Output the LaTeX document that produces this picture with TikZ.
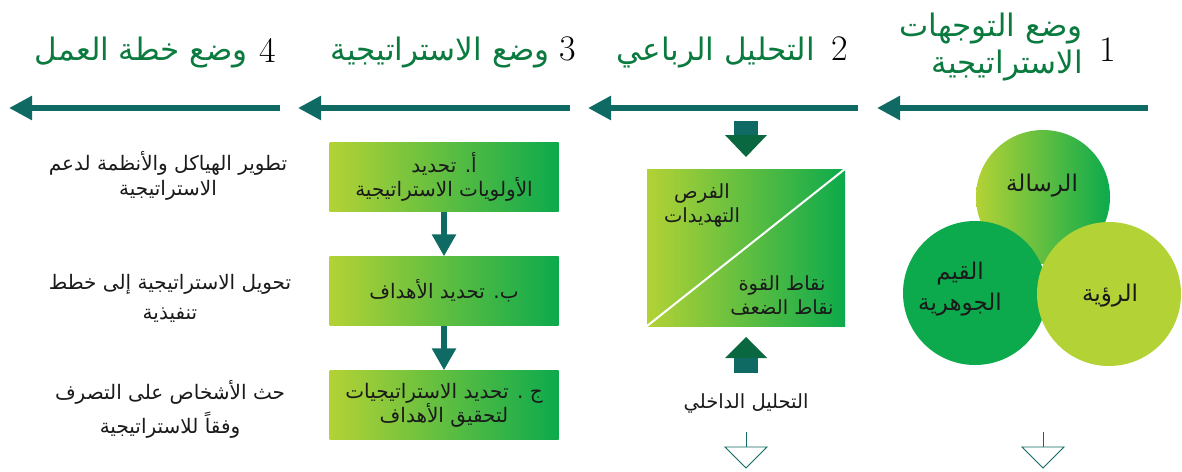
\documentclass[tikz,border=0pt]{standalone}
\usepackage{fontspec}
\usetikzlibrary{arrows.meta}
\newfontfamily\arfont[Script=Arabic]{DejaVu Sans}
\TeXXeTstate=1
\newcommand\AR[1]{{\arfont\beginR #1\endR}}
\definecolor{teal}{HTML}{0E6A62}
\definecolor{titlegreen}{HTML}{0B7A3E}
\definecolor{lightg}{HTML}{B3D235}
\definecolor{darkg}{HTML}{0CAA4C}
\definecolor{tri}{HTML}{0A6840}
\definecolor{txt}{HTML}{1A1A1A}
\begin{document}
\begin{tikzpicture}[x=1pt,y=-1pt,
  harrow/.style={draw=teal, line width=5.5pt, -{Triangle[width=23pt,length=23pt]}},
  varrow/.style={draw=teal, line width=6pt, -{Triangle[width=23pt,length=22pt]}},
  title/.style={text=titlegreen, font=\fontsize{31}{37}\selectfont, inner sep=0pt, align=right},
  num/.style={text=black, font=\fontsize{36}{36}\selectfont, inner sep=0pt},
  gbox/.style={left color=lightg, right color=darkg, minimum width=229pt, minimum height=69pt, inner sep=0pt, align=center, text=txt, font=\fontsize{20}{24}\selectfont},
  lbl/.style={text=txt, font=\fontsize{20}{25}\selectfont, inner sep=0pt, align=center},
  slbl/.style={text=txt, font=\fontsize{19.5}{24}\selectfont, inner sep=0pt, align=center},
  clbl/.style={text=txt, font=\fontsize{23}{31}\selectfont, inner sep=0pt, align=center},
  outarrow/.style={draw=teal, line width=0.9pt, fill=white, line join=miter}
]
\useasboundingbox (0,0) rectangle (1182,471);

% horizontal arrows
\coordinate (a1s) at (1148,108); \coordinate (a1e) at (877,108);
\coordinate (a2s) at (858,108);  \coordinate (a2e) at (588,108);
\coordinate (a3s) at (570,108);  \coordinate (a3e) at (298,108);
\coordinate (a4s) at (280,108);  \coordinate (a4e) at (9,108);
\draw[harrow] (a1s) -- (a1e);
\draw[harrow] (a2s) -- (a2e);
\draw[harrow] (a3s) -- (a3e);
\draw[harrow] (a4s) -- (a4e);

% titles
\node[num] (n1) at (1108,50) {1};
\node[num] (n2) at (840,49) {2};
\node[num] (n3) at (568,49) {3};
\node[num] (n4) at (268,50) {4};
\node[title, anchor=east] (t1) at (1083,47) {\AR{وضع التوجهات}\\\AR{الاستراتيجية}};
\node[title, anchor=east] (t2) at (815,53) {\AR{التحليل الرباعي}};
\node[title, anchor=east] (t3) at (550,53) {\AR{وضع الاستراتيجية}};
\node[title, anchor=east] (t4) at (248,53) {\AR{وضع خطة العمل}};

% column 4 texts
\node[lbl] (l1) at (168,176) {\AR{تطوير الهياكل والأنظمة لدعم}\\\AR{الاستراتيجية}};
\node[lbl] (l2) at (170,298) {\AR{تحويل الاستراتيجية إلى خطط}\\[5pt]\AR{تنفيذية}};
\node[lbl] (l3) at (170,409) {\AR{حث الأشخاص على التصرف}\\[7pt]\AR{وفقاً للاستراتيجية}};

% column 3 boxes
\node[gbox] (b1) at (444,177) {\AR{أ. تحديد}\\\AR{الأولويات الاستراتيجية}};
\node[gbox] (b2) at (444,291) {\AR{ب. تحديد الأهداف}};
\node[gbox] (b3) at (444,405) {\AR{ج . تحديد الاستراتيجيات}\\\AR{لتحقيق الأهداف}};
\draw[varrow] (b1.south) -- (b2.north);
\draw[varrow] (b2.south) -- (b3.north);

% column 2: SWOT
\node[left color=lightg, right color=darkg, minimum width=198pt, minimum height=157pt, inner sep=0pt] (sw) at (746,247.5) {};
\draw[white, line width=2pt] (sw.south west) -- (sw.north east);
\node[slbl] (ext) at (702,205) {\AR{الفرص}\\\AR{التهديدات}};
\node[slbl] (int) at (782,296) {\AR{نقاط القوة}\\\AR{نقاط الضعف}};
% block arrow down
\fill[teal] (734,121) rectangle (758,135);
\fill[tri] (725,135) -- (767,135) -- (746,157) -- cycle;
% block arrow up
\fill[tri] (725,358) -- (767,358) -- (746,337) -- cycle;
\fill[teal] (734,358) rectangle (758,373);
\node[slbl] (intl) at (746,403) {\AR{التحليل الداخلي}};
% outline arrows
\draw[teal, line width=0.9pt] (746,432) -- (746,447);
\draw[outarrow] (725,447) -- (767,447) -- (746,468) -- cycle;
\draw[teal, line width=0.9pt] (1043,432) -- (1043,447);
\draw[outarrow] (1022,447) -- (1064,447) -- (1043,468) -- cycle;

% column 1: circles
\node[circle, left color=lightg, right color=darkg, minimum size=134pt, inner sep=0pt] (cm) at (1043,197) {};
\node[circle, fill=darkg, minimum size=144pt, inner sep=0pt] (cv) at (975,293) {};
\node[circle, fill=lightg, minimum size=144pt, inner sep=0pt] (cr) at (1109,294) {};
\node[clbl] (tm) at (1042,186) {\AR{الرسالة}};
\node[clbl] (tv) at (960,289) {\AR{القيم}\\\AR{الجوهرية}};
\node[clbl] (tr) at (1110,296) {\AR{الرؤية}};
\end{tikzpicture}
\end{document}
